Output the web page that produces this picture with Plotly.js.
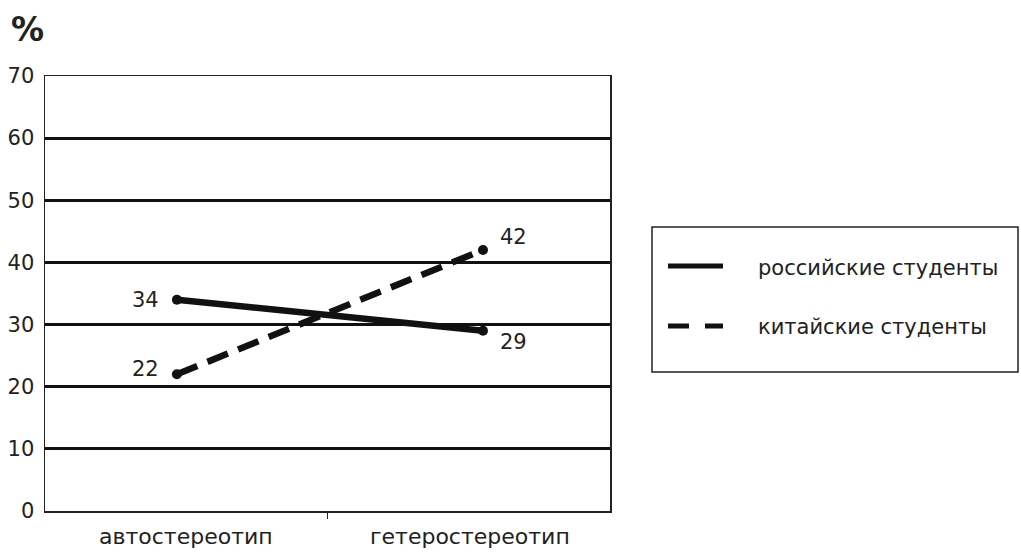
<!DOCTYPE html>
<html><head><meta charset="utf-8">
<script src="https://cdn.plot.ly/plotly-3.0.1.min.js"></script>
<style>html,body{margin:0;padding:0;background:#fff}#chart{width:1021px;height:552px}</style>
</head><body><div id="chart"></div>
<script>
const categories = ['автостереотип', 'гетеростереотип'];
const seriesNames = ['российские студенты', 'китайские студенты'];
const russian = [34, 29];
const chinese = [22, 42];
const yTicks = [0, 10, 20, 30, 40, 50, 60, 70];

const W = 1021, H = 552;
const px = x => x / W, py = y => 1 - y / H;
const xPos = [0, 1];
const labelPos = [0.029, 0.958];
const FONT = 'DejaVu Sans, Verdana, sans-serif';
const TXT = '#222';

const traces = [
  {x: xPos, y: russian, name: seriesNames[0], mode: 'lines+markers',
   line: {color: '#111', width: 6.5}, marker: {color: '#111', size: 10}, cliponaxis: false, hoverinfo: 'skip'},
  {x: xPos, y: chinese, name: seriesNames[1], mode: 'lines+markers',
   line: {color: '#111', width: 6.5, dash: '22px,11px'}, marker: {color: '#111', size: 10}, cliponaxis: false, hoverinfo: 'skip'}
];

const annotations = [];
// value labels (offsets only, values come from data arrays)
const labShift = {r: [[-31, 0], [31, -11]], c: [[-31, 5], [31, 13]]};
[[russian, labShift.r], [chinese, labShift.c]].forEach(([vals, sh]) => {
  vals.forEach((v, i) => annotations.push({x: xPos[i], y: v, xref: 'x', yref: 'y', text: String(v),
    showarrow: false, xshift: sh[i][0], yshift: sh[i][1], xanchor: 'center', yanchor: 'middle',
    font: {family: FONT, size: 21, color: TXT}}));
});
categories.forEach((c, i) => annotations.push({
  x: labelPos[i], xref: 'x', y: py(536), yref: 'paper', text: c, showarrow: false,
  font: {family: FONT, size: 22, color: TXT}, xanchor: 'center', yanchor: 'middle'
}));
annotations.push({x: px(9), y: py(29), xref: 'paper', yref: 'paper', text: '<b>%</b>',
  showarrow: false, xanchor: 'left', yanchor: 'middle', font: {family: FONT, size: 33, color: TXT}});
seriesNames.forEach((n, i) => annotations.push({x: px(756), y: py(i ? 327 : 268), xref: 'paper', yref: 'paper',
  text: n, showarrow: false, xanchor: 'left', yanchor: 'middle', font: {family: FONT, size: 21, color: TXT}}));

const shapes = [
  {type: 'rect', xref: 'paper', yref: 'paper', x0: px(652), x1: px(1018), y0: py(227), y1: py(372),
   line: {color: '#222', width: 1.5}, fillcolor: 'rgba(0,0,0,0)'},
  {type: 'line', xref: 'paper', yref: 'paper', x0: px(668), x1: px(723), y0: py(266), y1: py(266),
   line: {color: '#111', width: 5}},
  {type: 'line', xref: 'paper', yref: 'paper', x0: px(668), x1: px(723), y0: py(326), y1: py(326),
   line: {color: '#111', width: 5, dash: '21px,16px'}}
];

const layout = {
  width: W, height: H, margin: {l: 0, r: 0, t: 0, b: 0},
  paper_bgcolor: '#fff', plot_bgcolor: '#fff', showlegend: false,
  xaxis: {domain: [px(45), px(610)], range: [-0.431, 1.415], showgrid: false, zeroline: false,
    tickvals: [0.492], ticktext: [''], ticks: 'outside', ticklen: 6, tickwidth: 1.5, tickcolor: '#222',
    showline: true, linecolor: '#222', linewidth: 1.5, mirror: true, fixedrange: true},
  yaxis: {domain: [py(511), py(76)], range: [0, 70], tickvals: yTicks, ticktext: yTicks.map(String),
    showgrid: true, gridcolor: '#111', gridwidth: 3, zeroline: false, ticks: '', ticklabelstandoff: 5,
    showline: true, linecolor: '#222', linewidth: 1.5, mirror: true,
    tickfont: {family: FONT, size: 21, color: TXT}, fixedrange: true},
  annotations, shapes
};
Plotly.newPlot('chart', traces, layout, {displayModeBar: false, staticPlot: true});
</script></body></html>
